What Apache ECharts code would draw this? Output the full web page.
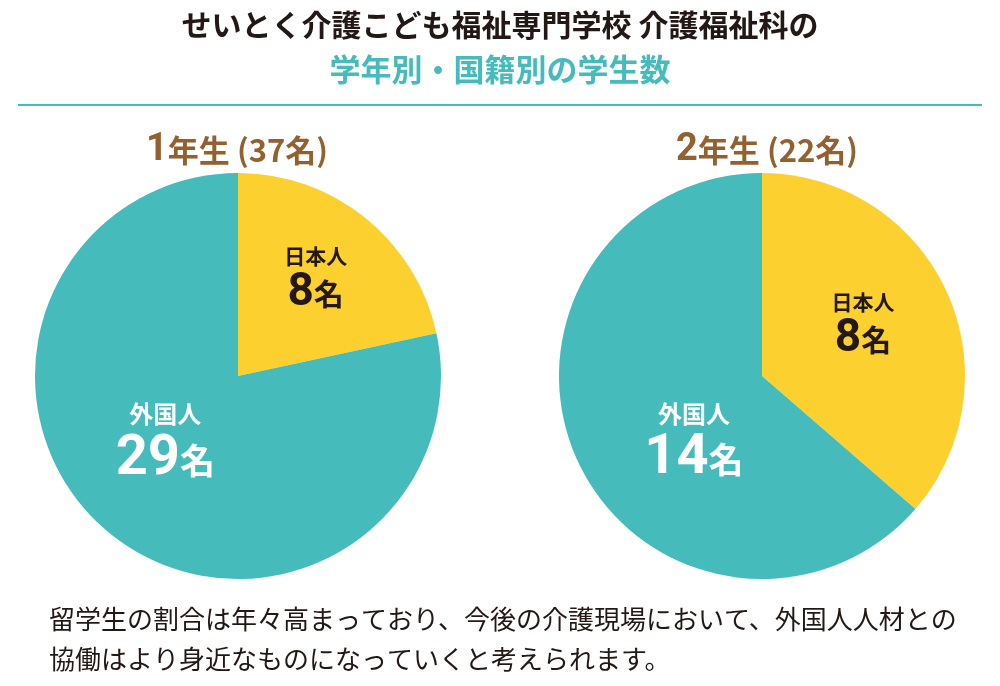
<!DOCTYPE html>
<html>
<head>
    <meta charset="utf-8">
    <title>学年別・国籍別の学生数</title>
    <script src="https://cdn.jsdelivr.net/npm/echarts@6/dist/echarts.min.js"></script>
    <style>
        html, body { margin: 0; padding: 0; background: #fff; }
        #main { width: 1000px; height: 686px; }
    </style>
</head>
<body>
<div id="main"></div>
<script>
    // データ
    var grades = ['1年生', '2年生'];
    var categories = ['日本人', '外国人'];
    var japanese = [8, 8];
    var foreign = [29, 14];

    var TEAL = '#45bbbb';
    var YELLOW = '#fcd02f';
    var BROWN = '#93602f';
    var FONT = '"Noto Sans CJK JP", sans-serif';

    var centers = [[238, 376], [762, 376]];
    // ラベル位置の微調整
    var offsets = [
        [[12, -15], [-7, -13]],
        [[6, -7], [27, 24]]
    ];

    function pieSeries(i) {
        var vals = [japanese[i], foreign[i]];
        return {
            type: 'pie',
            center: centers[i],
            radius: 203,
            startAngle: 90,
            clockwise: true,
            silent: true,
            emphasis: { disabled: true },
            labelLine: { show: false },
            label: {
                position: 'inside',
                formatter: function (p) {
                    return '{n|' + p.name + '}\n{v|' + p.value + '}{u|名}';
                }
            },
            data: categories.map(function (c, k) {
                var dark = k === 0;
                var col = dark ? '#231815' : '#ffffff';
                return {
                    name: c,
                    value: vals[k],
                    itemStyle: { color: dark ? YELLOW : TEAL },
                    label: {
                        offset: offsets[i][k],
                        rich: {
                            n: { fontFamily: FONT, fontWeight: 'bold', fontSize: dark ? 21 : 24, color: col, lineHeight: dark ? 28 : 32, align: 'center' },
                            v: { fontFamily: 'Roboto, sans-serif', fontWeight: 'bold', fontSize: dark ? 46 : 56, color: col, lineHeight: dark ? 48 : 60 },
                            u: { fontFamily: FONT, fontWeight: 'bold', fontSize: dark ? 30 : 35, color: col, lineHeight: dark ? 48 : 60 }
                        }
                    }
                };
            })
        };
    }

    function gradeTitle(i, x) {
        return {
            text: '{g|' + grades[i].charAt(0) + '}{t|' + grades[i].slice(1) + ' (' + (japanese[i] + foreign[i]) + '名)}',
            left: x, top: 126, textAlign: 'center',
            textStyle: {
                rich: {
                    g: { fontFamily: 'Roboto, sans-serif', fontWeight: 'bold', fontSize: 38, color: BROWN },
                    t: { fontFamily: FONT, fontWeight: 'bold', fontSize: 31, color: BROWN }
                }
            }
        };
    }

    var option = {
        backgroundColor: '#ffffff',
        animation: false,
        title: [
            {
                text: 'せいとく介護こども福祉専門学校 介護福祉科の',
                left: 'center', top: 5,
                textStyle: { fontFamily: FONT, fontWeight: 'bold', fontSize: 30, color: '#231815' }
            },
            {
                text: '学年別・国籍別の学生数',
                left: 'center', top: 49,
                textStyle: { fontFamily: FONT, fontWeight: 'bold', fontSize: 31, color: TEAL }
            },
            gradeTitle(0, 232),
            gradeTitle(1, 762),
            {
                text: '留学生の割合は年々高まっており、今後の介護現場において、外国人人材との\n協働はより身近なものになっていくと考えられます。',
                left: 44, top: 594,
                textStyle: { fontFamily: FONT, fontWeight: 'normal', fontSize: 26, lineHeight: 40, color: '#231815' }
            }
        ],
        graphic: [
            {
                type: 'line',
                shape: { x1: 18, y1: 105, x2: 982, y2: 105 },
                style: { stroke: TEAL, lineWidth: 2 }
            }
        ],
        series: [pieSeries(0), pieSeries(1)]
    };

    var myChart = echarts.init(document.getElementById('main'));
    myChart.setOption(option);
</script>
</body>
</html>
